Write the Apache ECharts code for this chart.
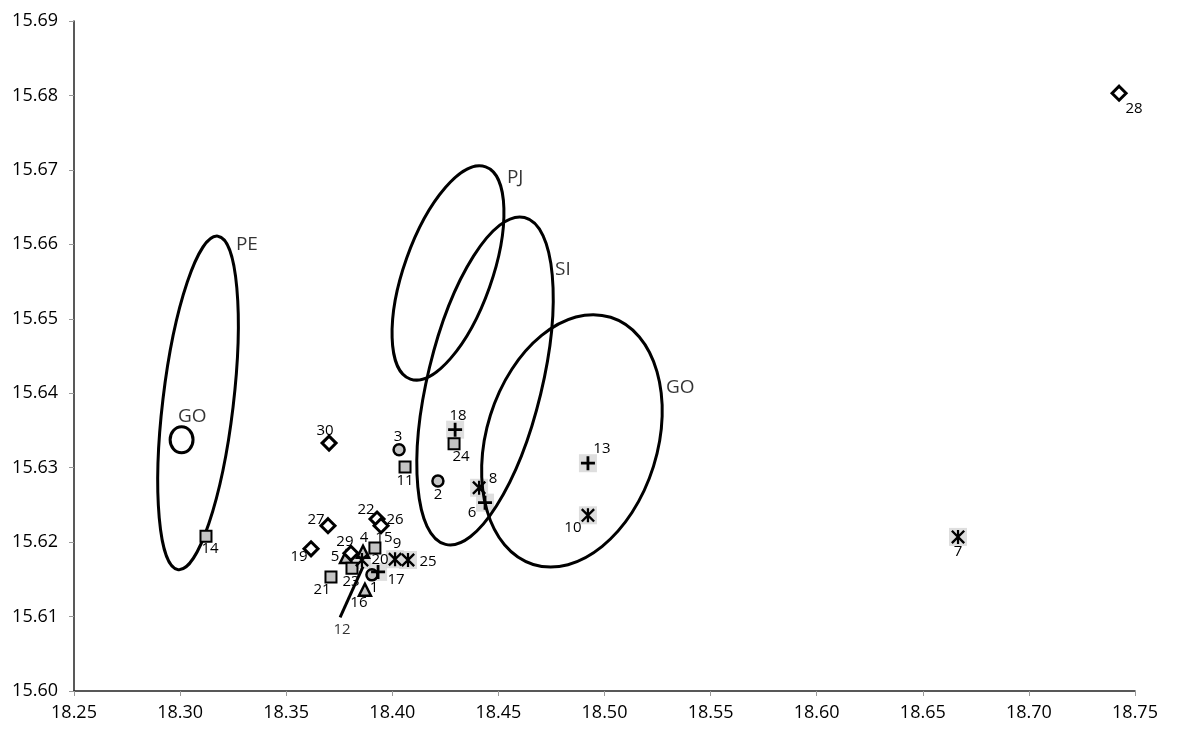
<!DOCTYPE html>
<html lang="en">
<head>
    <meta charset="UTF-8">
    <title>Isotope plot</title>
    <script src="https://cdn.jsdelivr.net/npm/echarts@6/dist/echarts.min.js"></script>
</head>
<style>
    html,body{
        padding: 0;
        margin: 0;
        background: #fff;
    }
</style>
<body>
<div id="chart" style="width: 1195px;height:731px;"></div>
</body>
<script type="text/javascript">
    // sample points
    var ids   = [1, 2, 3, 4, 5, 6, 7, 8, 9, 10, 11, 13, 14, 15, 16, 17, 18, 19, 20, 21, 22, 23, 24, 25, 26, 27, 28, 29, 30];
    var xs    = [18.3904, 18.4215, 18.4032, 18.3862, 18.3782, 18.4437, 18.6666, 18.4409, 18.4013, 18.4922,
                 18.4060, 18.4922, 18.3122, 18.3918, 18.3871, 18.3933, 18.4296, 18.3617, 18.3857, 18.3711,
                 18.3928, 18.3810, 18.4291, 18.4074, 18.3947, 18.3697, 18.7425, 18.3805, 18.3702];
    var ys    = [15.6156, 15.6282, 15.6324, 15.6187, 15.6180, 15.6253, 15.6207, 15.6273, 15.6177, 15.6236,
                 15.6301, 15.6306, 15.6208, 15.6192, 15.6136, 15.6160, 15.6351, 15.6191, 15.6176, 15.6153,
                 15.6231, 15.6165, 15.6332, 15.6176, 15.6222, 15.6222, 15.6803, 15.6185, 15.6333];
    var kinds = ['circle', 'circle', 'circle', 'triangle', 'triangle', 'plus', 'star', 'star', 'star', 'star',
                 'square', 'plus', 'square', 'square', 'triangle', 'plus', 'plus', 'diamond', 'star', 'square',
                 'diamond', 'square', 'square', 'star', 'diamond', 'diamond', 'diamond', 'diamond', 'diamond'];

    // sample 12 is drawn as a segment
    var line12X = [18.3754, 18.3862];
    var line12Y = [15.6099, 15.6167];

    // ellipses: ends of the long axis + width ratio
    var ellNames = ['PE', 'GO', 'PJ', 'SI', 'GO'];
    var ellX1 = [18.3178, 18.3007, 18.4440, 18.4623, 18.5029];
    var ellY1 = [15.6611, 15.6355, 15.6704, 15.6636, 15.6502];
    var ellX2 = [18.2991, 18.3007, 18.4085, 18.4251, 18.4664];
    var ellY2 = [15.6163, 15.6320, 15.6419, 15.6197, 15.6170];
    var ellRatio = [0.21, 0.88, 0.39, 0.34, 0.66];
    var ellLabelX = [18.3263, 18.2990, 18.4540, 18.4767, 18.5290];
    var ellLabelY = [15.6599, 15.6368, 15.6690, 15.6566, 15.6407];

    // tick labels
    var xTicks = ['18.25', '18.30', '18.35', '18.40', '18.45', '18.50', '18.55', '18.60', '18.65', '18.70', '18.75'];
    var yTicks = ['15.60', '15.61', '15.62', '15.63', '15.64', '15.65', '15.66', '15.67', '15.68', '15.69'];

    // where each number sits, pixels from its marker
    var labelOffset = {
        1: [2, 13], 2: [0, 14], 3: [-1, -13], 4: [1, -14], 5: [-11, 0], 6: [-13, 10], 7: [0, 15],
        8: [14, -9], 9: [2, -15], 10: [-15, 12], 11: [0, 14], 12: [2, 12], 13: [14, -14], 14: [4, 13],
        15: [9, -10], 16: [-6, 13], 17: [18, 8], 18: [3, -14], 19: [-12, 8], 20: [18, 0], 21: [-9, 13],
        22: [-11, -9], 23: [-1, 14], 24: [7, 13], 25: [20, 2], 26: [14, -6], 27: [-12, -6], 28: [15, 16],
        29: [-6, -12], 30: [-4, -12]
    };

    var PLUS = 'path://M4,0H6V4H10V6H6V10H4V6H0V4H4Z';
    var STAR = 'path://M4.2,0H5.8V10H4.2Z M0,1.2L1.2,0L10,8.8L8.8,10Z M10,1.2L1.2,10L0,8.8L8.8,0Z';

    var markStyle = {
        circle:   {symbol: 'circle',   size: 11, fill: '#c4c4c4', border: 2.5},
        square:   {symbol: 'rect',     size: 11, fill: '#c4c4c4', border: 2},
        triangle: {symbol: 'triangle', size: 12, fill: '#c4c4c4', border: 2.5},
        diamond:  {symbol: 'diamond',  size: 14, fill: '#ffffff', border: 3},
        plus:     {symbol: PLUS,       size: 14, fill: '#000000', border: 0},
        star:     {symbol: STAR,       size: 14, fill: '#000000', border: 0}
    };

    var textFont = '"Open Sans", "DejaVu Sans", sans-serif';

    function pointsOf(kind) {
        var out = [];
        for (var i = 0; i < ids.length; i++) {
            if (kinds[i] !== kind) continue;
            out.push({
                name: String(ids[i]),
                value: [xs[i], ys[i]],
                label: {offset: labelOffset[ids[i]]}
            });
        }
        return out;
    }

    function highlightPoints() {
        var out = [];
        for (var i = 0; i < ids.length; i++) {
            if (kinds[i] === 'plus' || kinds[i] === 'star') out.push([xs[i], ys[i]]);
        }
        return out;
    }

    var series = [];

    // grey boxes behind + and * markers
    series.push({
        type: 'scatter',
        symbol: 'rect',
        symbolSize: 18,
        silent: true,
        z: 1,
        itemStyle: {color: '#d6d6d6'},
        data: highlightPoints()
    });

    // ellipses
    var ellData = [];
    for (var e = 0; e < ellNames.length; e++) {
        ellData.push([ellX1[e], ellY1[e], ellX2[e], ellY2[e], ellRatio[e]]);
    }
    series.push({
        type: 'custom',
        z: 2,
        silent: true,
        encode: {x: [0, 2], y: [1, 3]},
        data: ellData,
        renderItem: function (params, api) {
            var p1 = api.coord([api.value(0), api.value(1)]);
            var p2 = api.coord([api.value(2), api.value(3)]);
            var dx = p1[0] - p2[0], dy = p1[1] - p2[1];
            var a = Math.sqrt(dx * dx + dy * dy) / 2;
            return {
                type: 'ellipse',
                x: (p1[0] + p2[0]) / 2,
                y: (p1[1] + p2[1]) / 2,
                rotation: -Math.atan2(dy, dx),
                shape: {cx: 0, cy: 0, rx: a, ry: a * api.value(4)},
                style: {fill: 'none', stroke: '#000', lineWidth: 3}
            };
        }
    });

    // ellipse names
    var ellLabels = [];
    for (var k = 0; k < ellNames.length; k++) {
        ellLabels.push({name: ellNames[k], value: [ellLabelX[k], ellLabelY[k]]});
    }
    series.push({
        type: 'scatter',
        symbolSize: 0,
        silent: true,
        z: 3,
        label: {
            show: true,
            position: 'inside',
            align: 'left',
            formatter: '{b}',
            color: '#000',
            fontSize: 19,
            fontFamily: textFont
        },
        data: ellLabels
    });

    // sample 12 segment
    series.push({
        type: 'line',
        symbol: 'none',
        silent: true,
        z: 3,
        lineStyle: {color: '#000', width: 3},
        data: [[line12X[0], line12Y[0]], [line12X[1], line12Y[1]]]
    });
    series.push({
        type: 'scatter',
        symbolSize: 0,
        silent: true,
        z: 3,
        label: {
            show: true, position: 'inside', formatter: '{b}', color: '#000',
            fontSize: 15, fontFamily: textFont, offset: labelOffset[12]
        },
        data: [{name: '12', value: [line12X[0], line12Y[0]]}]
    });

    // sample markers
    ['triangle', 'square', 'circle', 'diamond', 'plus', 'star'].forEach(function (kind) {
        var st = markStyle[kind];
        series.push({
            type: 'scatter',
            symbol: st.symbol,
            symbolSize: st.size,
            z: 4,
            itemStyle: {
                color: st.fill,
                borderColor: '#000',
                borderWidth: st.border,
                opacity: 1
            },
            label: {
                show: true,
                position: 'inside',
                formatter: '{b}',
                color: '#000',
                fontSize: 15,
                fontFamily: textFont
            },
            data: pointsOf(kind)
        });
    });

    var myChart = echarts.init(document.getElementById('chart'));
    myChart.setOption({
        animation: false,
        backgroundColor: '#fff',
        grid: {left: 74, right: 60, top: 21, bottom: 40},
        xAxis: {
            type: 'value',
            min: 18.25,
            max: 18.75,
            interval: 0.05,
            splitLine: {show: false},
            axisLine: {lineStyle: {color: '#222', width: 1.5}},
            axisTick: {length: 5, lineStyle: {color: '#999'}},
            axisLabel: {
                margin: 13,
                color: '#000',
                fontSize: 18,
                fontFamily: textFont,
                formatter: function (v) { return xTicks[Math.round((v - 18.25) / 0.05)]; }
            }
        },
        yAxis: {
            type: 'value',
            min: 15.60,
            max: 15.69,
            interval: 0.01,
            splitLine: {show: false},
            axisLine: {show: true, lineStyle: {color: '#222', width: 1.5}},
            axisTick: {show: true, length: 5, lineStyle: {color: '#999'}},
            axisLabel: {
                margin: 16,
                color: '#000',
                fontSize: 18,
                fontFamily: textFont,
                formatter: function (v) { return yTicks[Math.round((v - 15.60) / 0.01)]; }
            }
        },
        series: series
    });
</script>
</html>
